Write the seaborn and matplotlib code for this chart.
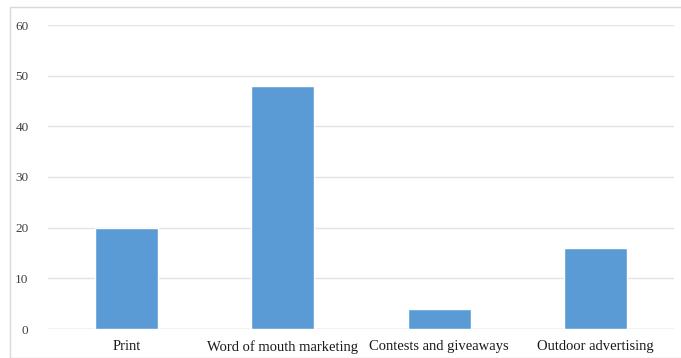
import matplotlib
matplotlib.use("Agg")
import matplotlib.pyplot as plt
import seaborn as sns
import pandas as pd
from matplotlib.patches import Rectangle

categories = ["Print", "Word of mouth marketing", "Contests and giveaways", "Outdoor advertising"]
values = [20, 48, 4, 16]
yticks = [0, 10, 20, 30, 40, 50, 60]

df = pd.DataFrame({"category": categories, "value": values})

sns.set_theme(style="white")
plt.rcParams['font.family'] = ['Liberation Serif', 'DejaVu Serif']

fig = plt.figure(figsize=(6.81, 3.58), dpi=100)
ax = fig.add_axes([48/681, 1-329/358, (674-48)/681, (329-25)/358])

sns.barplot(data=df, x="category", y="value", color="#5B9BD5", width=0.4, saturation=1, ax=ax, zorder=3)

ax.set_ylim(0, 60)
ax.set_xlim(-0.5, 3.5)
ax.set_yticks(yticks)
ax.set_yticklabels([str(t) for t in yticks], fontsize=9.5, color="#404040")
ax.tick_params(axis='x', labelsize=10.5, colors="#1a1a1a", length=0, pad=8)
ax.tick_params(axis='y', length=0, pad=14)
ax.set_xlabel("")
ax.set_ylabel("")
ax.yaxis.grid(True, color="#E3E3E3", linewidth=1, zorder=0)
for s in ax.spines.values():
    s.set_visible(False)
ax.axhline(0, color="#D9D9D9", linewidth=1, zorder=2)

fig.patches.append(Rectangle((10/681, 0), 1, 1-7/358, transform=fig.transFigure,
                             fill=False, edgecolor="#D9D9D9", linewidth=1))

fig.savefig("out.png", dpi=100)
